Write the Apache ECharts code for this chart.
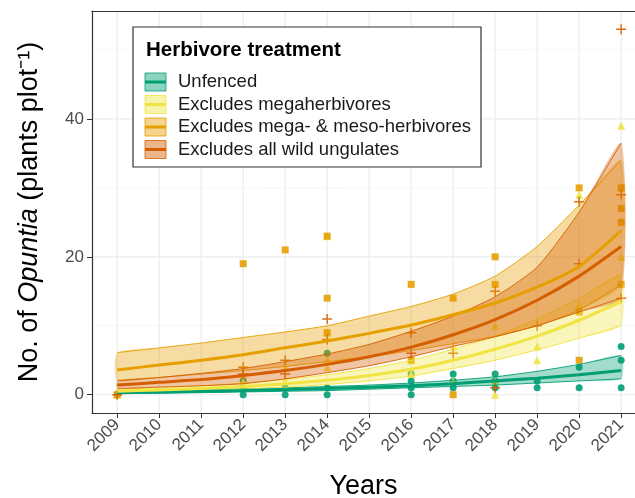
<!DOCTYPE html>
<html>
<head>
<meta charset="utf-8">
<script src="https://cdn.jsdelivr.net/npm/echarts@6/dist/echarts.min.js"></script>
<style>html,body{margin:0;padding:0;background:#fff;}#c{width:635px;height:498px;}</style>
</head>
<body>
<div id="c"></div>
<script>
// ---------- data ----------
const years = [2009, 2010, 2011, 2012, 2013, 2014, 2015, 2016, 2017, 2018, 2019, 2020, 2021];
const yTickValues = [0, 20, 40];
const yGridMajor = [0, 20, 40];
const yGridMinor = [10, 30, 50];

const treatments = ['Unfenced', 'Excludes megaherbivores', 'Excludes mega- & meso-herbivores', 'Excludes all wild ungulates'];
const colors = ['#009E73', '#F0E442', '#E69F00', '#D55E00'];

// fitted means and confidence bands
const unfencedMean  = [0.3, 0.4, 0.5, 0.6, 0.75, 0.9, 1.1, 1.3, 1.6, 2.0, 2.4, 2.9, 3.5];
const unfencedLower = [0.15, 0.2, 0.3, 0.4, 0.5, 0.6, 0.8, 1.0, 1.2, 1.4, 1.7, 2.0, 2.3];
const unfencedUpper = [0.5, 0.6, 0.7, 0.85, 1.0, 1.2, 1.4, 1.7, 2.1, 2.6, 3.4, 4.4, 5.7];

const megaMean  = [0.5, 0.7, 0.9, 1.2, 1.6, 2.1, 2.8, 3.7, 5.0, 6.6, 8.5, 10.8, 13.5];
const megaLower = [0.3, 0.4, 0.6, 0.8, 1.1, 1.5, 2.0, 2.7, 3.8, 5.0, 6.5, 8.2, 10.0];
const megaUpper = [0.8, 1.0, 1.3, 1.7, 2.2, 2.9, 3.8, 5.0, 6.6, 8.5, 11.0, 14.0, 17.5];

const mesoMean  = [3.6, 4.3, 5.0, 5.8, 6.8, 7.8, 8.9, 10.1, 11.6, 13.3, 15.6, 18.6, 23.8];
const mesoLower = [2.1, 2.5, 3.0, 3.5, 4.1, 4.8, 5.5, 6.4, 7.4, 8.5, 10.0, 12.3, 16.0];
const mesoUpper = [6.1, 6.8, 7.5, 8.3, 9.1, 10.0, 11.4, 12.8, 14.6, 17.2, 21.5, 27.5, 34.0];

const allMean  = [1.4, 1.8, 2.2, 2.8, 3.5, 4.4, 5.5, 6.9, 8.7, 10.9, 13.7, 17.2, 21.5];
const allLower = [0.9, 1.1, 1.3, 1.6, 2.3, 3.2, 4.2, 5.5, 7.0, 8.4, 10.0, 12.0, 14.0];
const allUpper = [2.0, 2.5, 3.1, 3.8, 4.8, 5.9, 7.3, 9.2, 11.4, 14.2, 18.5, 26.5, 36.5];

// observed plot counts [year, count]
const unfencedPts = [[2009,0],[2012,0],[2012,1],[2012,2],[2013,0],[2013,1],[2014,0],[2014,1],[2014,6],
  [2016,0],[2016,1],[2016,2],[2016,3],[2017,1],[2017,2],[2017,3],[2018,1],[2018,2],[2018,3],
  [2019,1],[2019,2],[2020,1],[2020,4],[2021,1],[2021,5],[2021,7]];
const megaPts = [[2009,0],[2012,2],[2012,3],[2013,2],[2013,4],[2014,4],[2014,5],[2014,9],[2014,23],
  [2016,3],[2016,5],[2017,2],[2017,7],[2018,0],[2018,2],[2018,10],[2019,5],[2019,7],
  [2020,13],[2020,29],[2021,20],[2021,30],[2021,39]];
const mesoPts = [[2009,0],[2012,19],[2013,21],[2014,9],[2014,14],[2014,23],[2016,5],[2016,16],
  [2017,0],[2017,14],[2018,16],[2018,20],[2020,5],[2020,12],[2020,30],[2021,16],[2021,25],[2021,27],[2021,30]];
const allPts = [[2009,0],[2012,3],[2012,4],[2013,3],[2013,5],[2014,8],[2014,11],[2016,6],[2016,9],
  [2017,6],[2018,1],[2018,15],[2019,10],[2020,19],[2020,28],[2021,14],[2021,29],[2021,53]];

const means  = [unfencedMean, megaMean, mesoMean, allMean];
const lowers = [unfencedLower, megaLower, mesoLower, allLower];
const uppers = [unfencedUpper, megaUpper, mesoUpper, allUpper];
const points = [unfencedPts, megaPts, mesoPts, allPts];

// ---------- chart ----------
function rgba(hex, a) {
  const n = parseInt(hex.slice(1), 16);
  return 'rgba(' + (n >> 16) + ',' + ((n >> 8) & 255) + ',' + (n & 255) + ',' + a + ')';
}
const plusPath = 'path://M3.4,0h1.2v3.4h3.4v1.2h-3.4v3.4h-1.2v-3.4h-3.4v-1.2h3.4z';
const symbols = ['circle', 'triangle', 'rect', plusPath];
const symSizes = [7, 8, 7, 10];

const chart = echarts.init(document.getElementById('c'), null, {renderer: 'canvas'});
const FONT = '"Liberation Sans", Arial, Helvetica, sans-serif';

const series = [];

// gridlines (drawn underneath everything)
function gridSeries(values, vertical, color, width) {
  return {
    type: 'custom', z: 0, silent: true, clip: true,
    data: values.map(v => [v]),
    encode: vertical ? {x: 0} : {y: 0},
    renderItem: function (params, api) {
      const cs = params.coordSys;
      const v = api.value(0);
      if (vertical) {
        const x = api.coord([v, 0])[0];
        return {type: 'line', shape: {x1: x, y1: cs.y, x2: x, y2: cs.y + cs.height},
                style: {stroke: color, lineWidth: width}};
      }
      const y = api.coord([2015, v])[1];
      return {type: 'line', shape: {x1: cs.x, y1: y, x2: cs.x + cs.width, y2: y},
              style: {stroke: color, lineWidth: width}};
    }
  };
}
series.push(gridSeries(yGridMinor, false, '#f3f3f3', 0.7));
series.push(gridSeries(yGridMajor, false, '#ebebeb', 1.2));
series.push(gridSeries(years, true, '#ebebeb', 1.2));

// points
points.forEach((p, k) => {
  series.push({
    type: 'scatter', data: p, symbol: symbols[k], symbolSize: symSizes[k], z: 2,
    itemStyle: {color: colors[k], opacity: 0.9}, silent: true
  });
});

// ribbons
means.forEach((m, k) => {
  const lo = lowers[k], up = uppers[k], col = colors[k];
  series.push({
    type: 'custom', z: 3, silent: true, clip: true,
    data: years.map((y, i) => [y, lo[i], up[i]]),
    encode: {x: 0, y: [1, 2]},
    renderItem: function (params, api) {
      if (params.dataIndex !== 0) return null;
      const upPts = years.map((y, i) => api.coord([y, up[i]]));
      const loPts = years.map((y, i) => api.coord([y, lo[i]]));
      return {
        type: 'group',
        children: [
          {type: 'polygon', shape: {points: upPts.concat(loPts.slice().reverse()), smooth: 0.2},
           style: {fill: rgba(col, 0.36), stroke: null}},
          {type: 'polyline', shape: {points: upPts, smooth: 0.2}, style: {stroke: col, lineWidth: 0.9, fill: null}},
          {type: 'polyline', shape: {points: loPts, smooth: 0.2}, style: {stroke: col, lineWidth: 0.9, fill: null}}
        ]
      };
    }
  });
});

// mean lines
means.forEach((m, k) => {
  series.push({
    type: 'line', data: years.map((y, i) => [y, m[i]]), symbol: 'none', z: 4, silent: true,
    lineStyle: {color: colors[k], width: 3}, smooth: 0.2
  });
});

// legend drawn with graphics
const legendChildren = [
  {type: 'rect', shape: {x: 133, y: 27, width: 348, height: 140},
   style: {fill: '#fff', stroke: '#333', lineWidth: 1.2}},
  {type: 'text', style: {x: 146, y: 50, text: 'Herbivore treatment', font: 'bold 20.5px ' + FONT,
   fill: '#000', textVerticalAlign: 'middle'}}
];
const rowY = [82, 104.5, 127, 149.5];
treatments.forEach((t, k) => {
  const cy = rowY[k];
  legendChildren.push(
    {type: 'rect', shape: {x: 145, y: cy - 9, width: 21, height: 18},
     style: {fill: rgba(colors[k], 0.45), stroke: colors[k], lineWidth: 0.8}},
    {type: 'line', shape: {x1: 145, y1: cy, x2: 166, y2: cy}, style: {stroke: colors[k], lineWidth: 3}},
    {type: 'text', style: {x: 178, y: cy, text: t, font: '18.5px ' + FONT, fill: '#1a1a1a',
     textVerticalAlign: 'middle'}}
  );
});

const option = {
  animation: false,
  backgroundColor: '#fff',
  grid: {left: 92, right: 0, top: 11, bottom: 85, outerBoundsMode: 'none', containLabel: false},
  xAxis: [{
    type: 'value', min: 2008.4, max: 2021.33,
    name: 'Years', nameLocation: 'middle', nameGap: 60,
    nameTextStyle: {fontSize: 27, color: '#000', fontFamily: FONT},
    axisLine: {show: true, onZero: false, lineStyle: {color: '#333', width: 1.2}},
    axisTick: {show: true, length: 5, lineStyle: {color: '#333'}, customValues: years},
    axisLabel: {rotate: 45, fontSize: 17, color: '#4d4d4d', fontFamily: FONT, margin: 9,
                customValues: years, formatter: v => String(v)},
    splitLine: {show: false}
  }, {
    type: 'value', position: 'top', min: 2008.4, max: 2021.33,
    axisLine: {show: true, onZero: false, lineStyle: {color: '#333', width: 1.2}},
    axisTick: {show: false}, axisLabel: {show: false}, splitLine: {show: false}
  }],
  yAxis: {
    type: 'value', min: -2.65, max: 55.65,
    name: '{n|No. of }{i|Opuntia}{n| (plants plot⁻¹)}', nameLocation: 'middle', nameGap: 49, nameRotate: 90,
    nameTextStyle: {fontSize: 27, color: '#000', fontFamily: FONT,
      rich: {n: {fontSize: 27, fontFamily: FONT, color: '#000'},
             i: {fontSize: 27, fontFamily: FONT, fontStyle: 'italic', color: '#000'}}},
    axisLine: {show: true, lineStyle: {color: '#333', width: 1.2}},
    axisTick: {show: true, length: 5, lineStyle: {color: '#333'}, customValues: yTickValues},
    axisLabel: {fontSize: 17, color: '#4d4d4d', fontFamily: FONT, margin: 8, customValues: yTickValues},
    splitLine: {show: false}
  },
  graphic: legendChildren.map(c => Object.assign({z: 100}, c)),
  series: series
};
chart.setOption(option);
</script>
</body>
</html>
